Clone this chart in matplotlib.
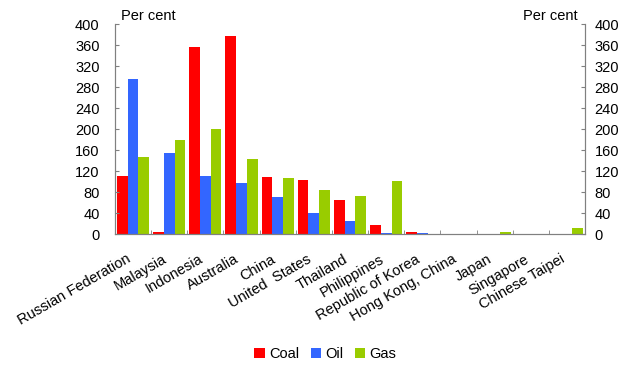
import matplotlib
matplotlib.use("Agg")
import matplotlib.pyplot as plt
import matplotlib.transforms as mtransforms
import numpy as np
from matplotlib.patches import Patch

plt.rcParams['font.family'] = ['Liberation Sans', 'DejaVu Sans']

categories = ["Russian Federation", "Malaysia", "Indonesia", "Australia", "China",
              "United  States", "Thailand", "Philippines", "Republic of Korea",
              "Hong Kong, China", "Japan", "Singapore", "Chinese Taipei"]
coal = [111, 4, 357, 378, 109, 103, 65, 18, 4, 0, 0, 0, 0]
oil = [296, 155, 111, 98, 71, 41, 25, 2, 2, 0, 0, 0, 0]
gas = [147, 180, 201, 143, 107, 84, 73, 101, 0, 0, 4, 0, 12]
yticks = [0, 40, 80, 120, 160, 200, 240, 280, 320, 360, 400]

series = [("Coal", coal, "#FF0000"), ("Oil", oil, "#3366FF"), ("Gas", gas, "#99CC00")]

fig = plt.figure(figsize=(6.29, 3.75), dpi=100)
ax = fig.add_axes([115/629, 1-234/375, (585-115)/629, (234-24.3)/375])
x = np.arange(len(categories))
w = 0.297
for i, (name, vals, col) in enumerate(series):
    ax.bar(x + (i-1)*w, vals, width=w, color=col, linewidth=0, label=name)

grey = "#808080"
ax.set_xlim(-0.5, len(categories)-0.5)
ax.set_ylim(0, 400)
ax.set_yticks(yticks)
ax.set_yticklabels([str(v) for v in yticks], fontsize=10.5)
ax.set_xticks(x)
ax.set_xticklabels(categories, rotation=30, ha='right', fontsize=10.5)
offset = mtransforms.ScaledTranslation(-4/100, -1/100, fig.dpi_scale_trans)
for lab in ax.get_xticklabels():
    lab.set_transform(lab.get_transform() + offset)
ax.set_xticks(np.arange(0.5, len(categories)-0.5, 1), minor=True)
ax.tick_params(axis='x', which='major', length=0, pad=13)
ax.tick_params(axis='x', which='minor', direction='in', length=3, color=grey)
ax.tick_params(axis='y', direction='in', length=3, color=grey, pad=11)
for s in ['top']:
    ax.spines[s].set_visible(False)
for s in ['left', 'right', 'bottom']:
    ax.spines[s].set_color(grey)

ax2 = ax.twinx()
ax2.set_ylim(0, 400)
ax2.set_yticks(yticks)
ax2.set_yticklabels([str(v) for v in yticks], fontsize=10.5)
ax2.tick_params(axis='y', direction='in', length=3, color=grey, pad=7)
for s in ['top']:
    ax2.spines[s].set_visible(False)
for s in ['left', 'right', 'bottom']:
    ax2.spines[s].set_color(grey)

fig.text(121/629, 1-16/375, "Per cent", fontsize=10.5, ha='left', va='center')
fig.text(578/629, 1-16/375, "Per cent", fontsize=10.5, ha='right', va='center')

handles = [Patch(facecolor=c, edgecolor='none', label=n) for n, _, c in series]
fig.legend(handles=handles, loc='center', bbox_to_anchor=(325.5/629, 1-354/375), ncol=3,
           frameon=False, fontsize=10.5, handlelength=0.7, handleheight=0.7,
           handletextpad=0.3, columnspacing=0.8)

fig.savefig("out.png", dpi=100)
